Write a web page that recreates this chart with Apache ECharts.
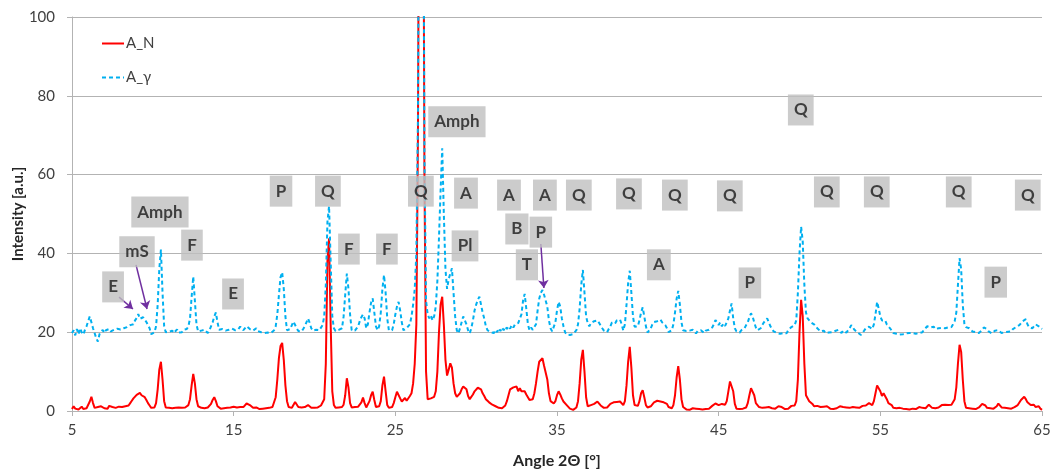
<!DOCTYPE html>
<html><head><meta charset="utf-8">
<script src="https://cdn.jsdelivr.net/npm/echarts@6/dist/echarts.min.js"></script>
<style>html,body{margin:0;padding:0;background:#fff}#chart{width:1055px;height:475px}</style>
</head><body><div id="chart"></div>
<script>
// ---- data ----
const angleStart = 5.0;     // first sample angle (degrees 2θ)
const angleStep = 0.1;      // sampling step (degrees)
const xTickLabels = ['5', '15', '25', '35', '45', '55', '65'];
const yTickLabels = ['0', '20', '40', '60', '80', '100'];
const seriesNames = ['A_N', 'A_γ'];

// A_N intensity, one row per degree (d.0 ... d.9), from 5.0 to 65.0
const intensityAN = [
0.5,1.2,0.6,1.0,0.4,0.8,1.1,0.5,0.9,0.7,
1.0,2.4,3.6,2.0,0.8,0.6,1.0,0.5,1.2,0.8,
0.7,1.1,0.6,1.3,0.9,1.0,1.4,0.8,1.2,1.1,
1.3,1.0,1.5,1.2,1.6,1.4,2.0,2.6,3.2,3.6,
4.1,4.4,4.6,4.0,4.3,3.5,2.8,2.0,1.4,0.8,
0.6,0.9,2.0,5.5,10.5,12.5,8.0,2.5,0.9,0.6,
0.8,1.0,0.7,1.1,0.8,1.2,0.9,1.0,0.8,1.1,
0.9,1.2,1.5,3.0,6.5,9.4,7.0,3.0,1.2,0.9,
0.8,1.0,0.7,1.1,0.9,1.2,1.8,2.8,3.5,2.5,
1.2,0.8,0.6,0.9,0.7,1.0,0.8,0.6,0.9,1.3,
1.1,0.7,0.9,0.6,1.0,1.2,1.0,1.4,1.9,2.0,
1.5,1.0,0.8,0.6,0.9,0.7,0.5,0.8,0.6,0.9,
0.7,0.5,0.8,0.6,1.0,1.5,3.5,8.0,13.5,16.5,
17.3,13.0,6.5,2.5,1.0,0.6,0.8,1.3,2.3,1.8,
1.0,0.7,0.9,0.6,1.0,1.2,1.5,1.2,0.8,0.6,
0.8,0.7,0.9,1.0,1.4,1.2,3.0,12.0,38.0,43.8,
22.0,5.0,1.5,0.8,0.6,0.9,0.7,1.0,1.6,4.0,
8.3,6.0,2.0,0.9,0.7,1.0,0.6,1.1,1.3,2.2,
3.4,2.0,0.9,1.0,2.5,4.0,4.9,2.8,1.0,0.8,
1.2,2.5,6.5,8.7,5.0,1.5,0.8,1.2,1.0,2.0,
3.5,4.9,4.5,3.2,2.4,2.8,3.3,2.6,3.0,3.8,
4.5,7.0,12.0,22.0,70.0,180.0,220.0,180.0,60.0,10.0,
3.0,2.8,3.2,3.0,3.6,5.0,10.0,20.0,27.0,29.0,
22.0,13.0,9.0,10.5,12.1,11.0,7.0,4.5,3.6,3.5,
4.5,5.5,6.2,6.6,5.5,3.8,3.0,3.5,4.2,5.0,
5.5,5.9,6.2,5.5,4.5,3.8,3.0,2.5,2.2,1.9,
1.6,1.4,1.2,1.0,0.8,1.1,0.7,0.9,1.4,2.5,
4.0,5.5,5.2,6.0,5.5,6.2,5.0,5.8,5.0,4.5,
5.0,4.2,3.5,2.8,2.5,3.0,4.5,7.0,10.0,12.5,
13.0,13.4,11.5,11.3,8.0,4.5,2.5,2.0,1.9,2.5,
4.0,5.0,4.2,3.2,2.4,2.0,1.5,1.0,0.6,0.5,
0.3,0.6,0.9,2.5,7.0,13.0,15.5,10.0,3.5,1.2,
1.0,1.5,1.3,1.8,2.2,2.4,2.0,1.4,1.0,0.8,
0.6,0.9,1.2,1.8,2.0,2.2,1.8,2.3,2.0,2.4,
2.0,1.5,2.5,6.5,12.5,16.3,11.0,4.0,1.5,1.0,
1.3,2.5,4.5,5.3,3.5,1.5,0.9,0.7,1.2,1.6,
2.2,2.0,2.6,3.0,2.4,2.7,2.2,2.5,1.8,1.0,
0.8,0.7,1.5,4.0,8.5,11.4,8.0,3.0,1.0,0.6,
0.4,0.6,0.3,0.5,0.7,0.4,0.6,0.3,0.5,0.7,
0.4,0.6,0.5,0.8,0.6,1.0,1.3,1.7,1.9,1.6,
1.5,2.0,1.8,1.5,1.6,2.5,5.0,7.5,8.0,5.0,
1.8,0.6,0.3,0.5,0.4,0.6,0.5,0.9,2.0,4.0,
5.8,6.0,4.0,2.0,1.5,1.0,1.2,0.8,1.1,0.9,
1.3,1.0,1.2,0.7,1.0,0.6,0.9,1.2,0.8,1.0,
0.7,0.5,0.9,0.6,1.0,1.3,1.0,1.4,2.5,8.0,
20.0,28.2,24.0,12.0,4.0,3.6,2.5,2.8,1.8,1.2,
1.0,1.3,0.8,1.0,0.6,1.1,0.8,1.2,0.9,0.6,
0.8,0.5,1.0,0.7,0.9,1.2,0.8,1.0,0.6,0.9,
1.1,0.8,0.6,1.0,0.7,0.9,1.2,0.8,1.0,1.3,
1.0,1.4,1.2,2.0,1.8,1.5,2.5,4.5,6.5,7.0,
5.0,3.8,4.5,4.5,3.0,2.0,2.2,1.5,0.8,0.5,
0.7,0.4,0.8,0.5,0.6,0.9,0.5,0.7,0.4,0.8,
0.6,0.9,0.5,0.7,1.0,0.6,0.8,1.1,0.7,1.2,
1.6,1.2,0.8,1.0,0.7,1.2,0.9,1.3,1.5,1.8,
1.6,1.2,1.5,1.3,1.6,2.0,3.0,6.0,12.0,16.8,
15.0,8.0,2.5,0.8,0.5,0.7,0.4,0.6,0.9,0.5,
0.7,0.9,1.2,1.8,2.0,1.4,0.8,0.5,0.7,0.4,
0.6,0.8,1.2,1.9,1.5,0.9,0.6,0.8,0.5,0.7,
0.9,0.6,0.8,1.0,1.3,1.5,2.0,2.8,3.3,3.6,
3.0,2.2,1.8,1.5,2.0,1.6,1.0,0.8,1.2,0.6,
0.3
];

// A_γ intensity, one row per degree (d.0 ... d.9), from 5.0 to 65.0
const intensityAG = [
19.8,20.5,19.2,20.8,19.5,21.0,20.0,19.4,20.6,21.5,
22.8,24.0,22.5,21.0,21.5,18.5,17.6,19.5,19.7,20.6,
19.8,20.5,20.0,20.8,20.2,19.9,20.6,20.3,20.9,20.4,
20.7,20.4,21.0,20.8,21.3,21.1,21.8,22.3,22.0,23.0,
23.6,24.6,23.4,23.0,23.8,23.5,22.6,23.0,21.0,19.5,
19.3,20.0,21.5,27.0,36.0,41.0,30.0,21.5,20.0,20.4,
20.1,19.6,20.4,19.8,20.2,20.7,19.9,20.3,20.0,20.6,
20.3,20.8,21.5,23.5,29.0,34.1,28.0,22.0,20.2,19.9,
20.4,20.0,20.6,20.1,19.8,20.5,21.0,22.5,24.0,25.0,
22.5,20.6,20.2,20.8,21.0,20.4,20.0,20.6,20.3,20.9,
21.2,20.5,20.2,20.8,21.4,21.0,20.5,20.9,21.5,21.2,
20.8,21.2,20.4,20.7,21.0,20.3,20.6,20.0,20.4,19.8,
20.2,19.9,20.3,19.8,20.1,20.5,21.5,24.5,29.5,34.0,
35.2,31.0,24.0,20.5,20.0,20.8,21.8,22.7,22.3,21.0,
20.3,20.6,20.2,20.8,21.5,22.5,23.5,22.4,21.0,20.4,
20.2,20.6,20.1,20.5,21.0,21.8,24.0,32.0,48.0,52.0,
38.0,24.0,21.0,20.3,20.0,20.6,20.2,21.0,24.0,29.5,
34.9,31.0,24.5,20.5,20.0,20.4,20.9,21.5,22.8,23.8,
24.5,23.5,21.0,22.0,25.0,27.5,28.6,25.0,21.5,20.5,
21.5,25.0,31.0,34.5,30.0,23.5,20.5,20.0,20.5,22.0,
24.5,26.5,27.7,25.5,22.5,20.5,20.2,21.0,21.2,22.0,
24.0,27.0,31.0,40.0,75.0,185.0,225.0,185.0,65.0,28.0,
24.5,23.5,24.3,23.0,24.0,26.5,33.0,44.0,56.0,66.7,
50.0,36.0,31.0,33.5,34.0,36.2,30.0,24.0,20.5,19.7,
21.0,22.5,24.0,23.5,22.0,20.5,19.7,21.0,23.0,25.5,
27.0,28.2,29.0,27.0,25.0,23.5,21.5,20.5,20.3,20.0,
20.4,19.8,20.6,20.0,21.0,20.3,21.2,20.5,21.4,20.8,
21.5,20.9,21.8,21.2,22.0,21.5,22.3,22.1,24.5,28.0,
29.7,26.0,22.0,20.5,21.2,20.6,20.5,22.0,25.5,28.5,
30.0,30.7,29.5,29.0,26.5,23.0,21.0,20.2,20.0,22.5,
25.5,27.7,26.5,23.5,21.5,20.0,19.4,19.8,19.3,19.6,
19.5,20.0,20.5,22.0,26.0,32.0,35.8,30.0,24.0,22.3,
21.5,22.3,22.0,22.8,22.5,23.0,22.4,22.0,21.0,20.4,
20.2,20.0,20.8,21.5,22.5,22.8,22.3,23.0,22.5,23.2,
22.0,20.4,22.0,27.0,32.5,35.6,30.0,24.0,21.4,21.0,
21.5,23.0,25.0,26.3,24.0,21.5,19.9,19.7,21.0,22.0,
22.6,22.2,22.8,23.0,23.2,22.5,22.8,21.8,21.0,20.0,
19.6,20.5,22.0,25.0,28.5,30.5,27.0,22.5,20.5,20.0,
20.3,19.8,20.4,20.0,20.6,20.1,19.7,20.3,20.0,20.5,
20.2,19.8,20.4,20.0,20.6,20.3,21.2,22.0,23.1,22.5,
21.8,22.5,21.5,22.2,21.6,22.0,23.5,25.5,27.3,23.5,
21.0,20.2,19.7,19.9,20.5,20.2,21.0,21.8,22.5,23.8,
24.8,24.0,22.5,21.2,20.5,20.5,21.0,21.8,22.5,23.0,
23.5,22.5,21.5,20.8,20.2,20.0,19.8,20.2,19.6,19.9,
19.8,20.3,19.7,20.5,21.0,21.3,21.0,21.8,23.0,30.0,
40.0,46.8,43.0,32.0,25.0,23.5,23.0,22.5,22.8,22.0,
21.8,21.0,20.5,20.2,20.0,20.4,19.8,20.2,19.9,20.3,
20.0,19.7,20.3,20.0,20.6,20.2,19.8,20.4,20.1,19.9,
20.4,21.0,21.8,21.2,20.6,20.2,19.9,19.5,19.3,19.8,
20.4,21.0,21.2,21.4,21.0,20.8,22.0,24.5,27.7,26.0,
24.0,23.0,23.5,23.0,22.0,21.5,21.0,20.5,19.8,20.2,
19.6,19.9,19.4,19.8,19.5,20.0,19.7,19.3,19.8,19.5,
19.8,19.4,19.6,19.3,19.8,20.3,20.0,20.6,21.0,21.5,
21.8,21.2,21.0,21.4,20.8,21.3,21.0,21.5,21.1,21.3,
21.0,21.4,21.2,21.6,21.3,22.0,22.8,25.0,32.0,38.8,
36.0,27.0,22.0,21.3,20.8,21.0,20.6,20.2,20.5,20.0,
20.3,19.8,20.2,20.6,21.2,21.4,20.8,20.2,19.8,19.7,
19.9,20.4,20.1,20.5,20.2,19.8,20.3,20.0,20.4,20.1,
20.5,20.2,20.8,20.6,21.3,21.3,21.8,22.2,22.8,23.3,
23.3,22.0,21.3,21.5,21.0,21.5,22.0,22.2,21.5,21.0,
20.8
];

// phase annotations: label text, angle, intensity (centre of the label)
const annotationTexts = ['E','mS','Amph','F','E','P','Q','F','F','Q','Amph','A','Pl','A','B','P','T','A','Q','Q','Q','Q','A','P','Q','Q','Q','Q','Q','P'];
const annotationAngles = [7.54,9.02,10.44,12.42,14.96,17.93,20.83,22.13,24.48,26.58,28.81,29.37,29.31,32.03,32.52,34.0,33.14,34.25,36.35,39.45,42.29,45.69,41.3,46.93,50.08,51.69,54.78,59.85,64.12,62.14];
const annotationIntensities = [31.5,40.4,50.5,42.1,29.7,55.8,55.8,41.1,41.1,55.8,73.4,55.3,41.9,54.8,46.2,45.4,37.1,54.8,54.8,55.1,54.8,54.6,37.1,32.5,76.4,55.6,55.6,55.6,54.8,32.7];

// arrows: [angle, intensity] start -> end
const arrowStarts = [[7.91, 28.9], [8.96, 37.1], [34.0, 42.4]];
const arrowEnds = [[8.77, 25.9], [9.64, 25.9], [34.19, 31.2]];

// ---- chart ----
const toX = a => a - angleStart;   // axis runs 0..60, labelled 5..65
const buildPairs = arr => arr.map((v, i) => [toX(angleStart + i * angleStep), v]);

const FONT = 'Lato, "Open Sans", "Liberation Sans", sans-serif';
const chart = echarts.init(document.getElementById('chart'), null, {renderer: 'canvas'});

chart.setOption({
  animation: false,
  backgroundColor: '#ffffff',
  textStyle: {fontFamily: FONT},
  grid: {left: 72, right: 13, top: 17, bottom: 64, containLabel: false, outerBoundsMode: 'none'},
  legend: {
    orient: 'vertical', left: 96, top: 31, itemGap: 19, itemWidth: 22, itemHeight: 10,
    data: seriesNames,
    itemStyle: {opacity: 0},
    textStyle: {fontSize: 15, color: '#404040', fontFamily: FONT, padding: [0, 0, 0, -3]}
  },
  xAxis: {
    type: 'value', min: 0, max: 60, interval: 10,
    name: 'Angle 2Θ [°]', nameLocation: 'middle', nameGap: 42, nameMoveOverlap: false,
    nameTextStyle: {fontSize: 16, fontWeight: 'bold', color: '#262626', fontFamily: FONT},
    axisLine: {show: true, lineStyle: {color: '#b3b3b3', width: 1}},
    axisTick: {show: true, length: 5, lineStyle: {color: '#b3b3b3'}},
    axisLabel: {fontSize: 15, color: '#404040', margin: 12, fontFamily: FONT,
      formatter: v => xTickLabels[Math.round(v / 10)]},
    splitLine: {show: false}
  },
  yAxis: {
    type: 'value', min: 0, max: 100, interval: 20,
    name: 'Intensity [a.u.]', nameLocation: 'middle', nameGap: 46, nameMoveOverlap: false,
    nameTextStyle: {fontSize: 15, fontWeight: 'bold', color: '#262626', fontFamily: FONT},
    axisLine: {show: true, lineStyle: {color: '#b3b3b3', width: 1}},
    axisTick: {show: true, length: 5, lineStyle: {color: '#b3b3b3'}},
    axisLabel: {fontSize: 15, color: '#404040', margin: 17, fontFamily: FONT,
      formatter: v => yTickLabels[Math.round(v / 20)]},
    splitLine: {show: true, lineStyle: {color: '#b3b3b3', width: 1}}
  },
  series: [
    {
      name: seriesNames[0], type: 'line', data: buildPairs(intensityAN),
      symbol: 'none', showSymbol: false, clip: true, z: 2,
      lineStyle: {color: '#FF0000', width: 2}, itemStyle: {color: '#FF0000'}
    },
    {
      name: seriesNames[1], type: 'line', data: buildPairs(intensityAG),
      symbol: 'none', showSymbol: false, clip: true, z: 3,
      lineStyle: {color: '#00B0F0', width: 2, type: [4, 3]}, itemStyle: {color: '#00B0F0'}
    },
    {
      name: 'labels', type: 'scatter', z: 10, silent: true,
      symbol: 'rect', symbolSize: 1, itemStyle: {color: 'rgba(0,0,0,0)'},
      data: annotationTexts.map((t, i) => ({name: t, value: [toX(annotationAngles[i]), annotationIntensities[i]]})),
      label: {
        show: true, position: 'inside', formatter: '{b}',
        fontSize: 17, fontWeight: 'bold', color: '#1a1a1a', fontFamily: FONT,
        backgroundColor: '#BFBFBF', padding: [7, 6, 7, 6], lineHeight: 17
      },
      markLine: {
        silent: true, symbol: ['none', 'arrow'], symbolSize: 8, animation: false,
        lineStyle: {color: '#7030A0', width: 1.5, type: 'solid'},
        label: {show: false},
        data: arrowStarts.map((s, i) => [
          {coord: [toX(s[0]), s[1]]},
          {coord: [toX(arrowEnds[i][0]), arrowEnds[i][1]]}
        ])
      }
    }
  ]
});
</script>
</body></html>
